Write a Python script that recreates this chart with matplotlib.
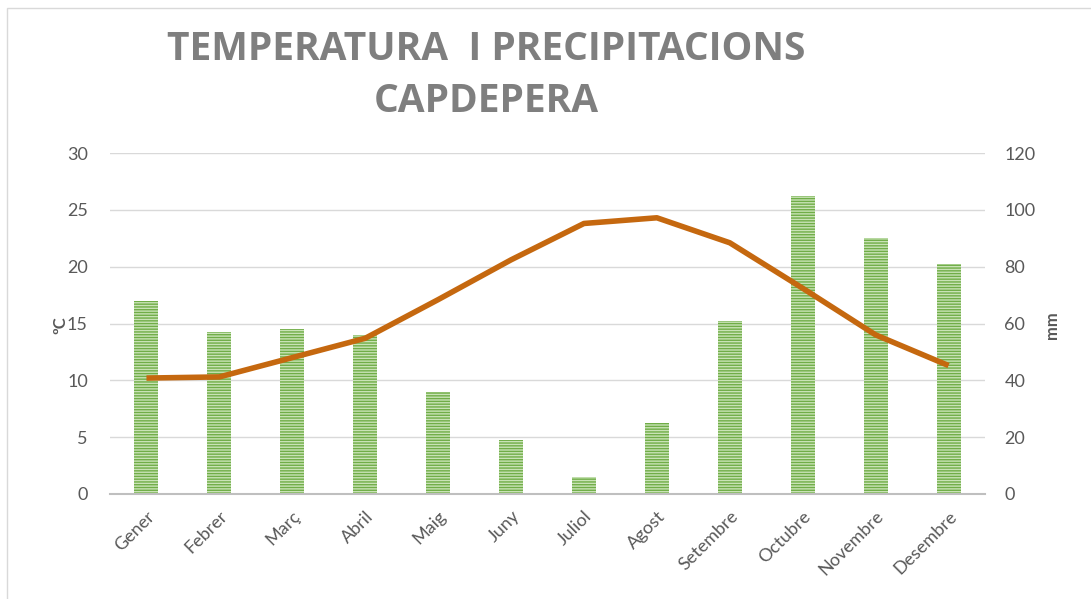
import matplotlib.pyplot as plt
from matplotlib.patches import Rectangle

months = ["Gener", "Febrer", "Març", "Abril", "Maig", "Juny", "Juliol",
          "Agost", "Setembre", "Octubre", "Novembre", "Desembre"]
precip_mm = [68, 57, 58, 56, 36, 19, 6, 25, 61, 105, 90, 81]
temp_c = [10.2, 10.3, 12.0, 13.7, 17.1, 20.6, 23.8, 24.3, 22.1, 18.1, 14.0, 11.3]

temp_ticks = [0, 5, 10, 15, 20, 25, 30]
mm_ticks = [0, 20, 40, 60, 80, 100, 120]

grey = "#595959"
plt.rcParams["hatch.linewidth"] = 1.0

fig = plt.figure(figsize=(10.91, 5.99), dpi=100)
fig.patches.append(Rectangle((7 / 1091, -0.1), 1.2, 1 - 8 / 599 + 0.1,
                             transform=fig.transFigure, fill=False,
                             edgecolor="#d9d9d9", linewidth=1))

# bars on the mm axis (ticks on the right), line on a twin with the left scale
ax = fig.add_axes([110 / 1091, 1 - 494 / 599, 875 / 1091, 341 / 599])
ax2 = ax.twinx()
x = range(len(months))

ax.bar(x, precip_mm, width=0.33, color="#c9e3b6", edgecolor="#70ad47",
       hatch="------", linewidth=0, zorder=2)
ax.set_ylim(0, 120)
ax.set_xlim(-0.5, len(months) - 0.5)
ax.set_yticks(mm_ticks)
ax.grid(axis="y", color="#d9d9d9", linewidth=1, zorder=0)
ax.set_axisbelow(True)

ax2.plot(x, temp_c, color="#c5680f", linewidth=4, solid_capstyle="butt",
         zorder=3)
ax2.set_ylim(0, 30)
ax2.set_yticks(temp_ticks)

ax.yaxis.tick_right()
ax2.yaxis.tick_left()

for a in (ax, ax2):
    for s in a.spines.values():
        s.set_visible(False)
    a.tick_params(axis="y", length=0, labelsize=13, labelcolor=grey)
    for lab in a.get_yticklabels():
        lab.set_family("Lato")
ax.tick_params(axis="y", pad=14)
ax2.tick_params(axis="y", pad=16)
ax.spines["bottom"].set_visible(True)
ax.spines["bottom"].set_color("#bfbfbf")
ax.spines["bottom"].set_linewidth(1.5)

ax.set_ylabel("mm", fontsize=12, fontweight="bold", color=grey, family="Lato")
ax.yaxis.set_label_coords(1.086, 0.496)
ax2.set_ylabel("ºC", fontsize=12, fontweight="bold", color=grey, family="Lato")
ax2.yaxis.set_label_coords(-0.066, 0.496)

ax.set_xticks(list(x))
ax.set_xticklabels(months, rotation=45, ha="right", rotation_mode="anchor",
                   family="Lato", fontsize=13, color=grey)
ax.tick_params(axis="x", length=0, pad=10)

fig.text(486 / 1091, 1 - 50 / 599, "TEMPERATURA  I PRECIPITACIONS",
         ha="center", va="center", fontsize=28, fontweight="bold",
         color="#7f7f7f", family="Open Sans")
fig.text(486 / 1091, 1 - 101 / 599, "CAPDEPERA", ha="center", va="center",
         fontsize=28, fontweight="bold", color="#7f7f7f", family="Open Sans")

fig.savefig("out.png", dpi=100)
